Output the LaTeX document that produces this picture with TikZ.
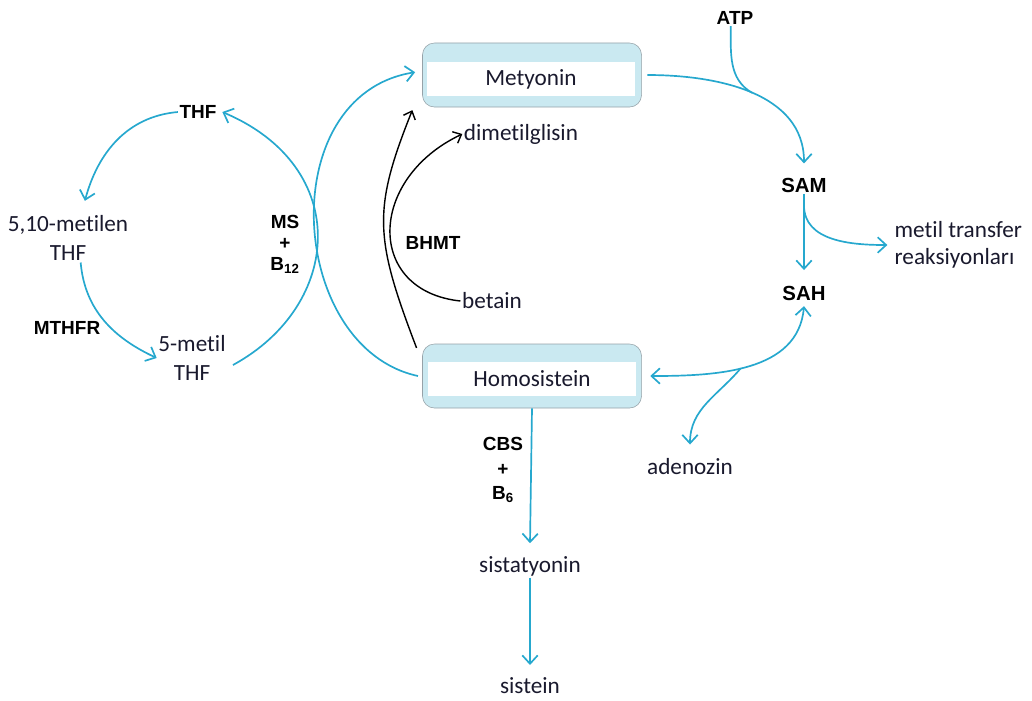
\documentclass[tikz,border=0pt]{standalone}
\usepackage{fontspec}
\setmainfont{Carlito}[Ligatures=NoCommon]
\newfontfamily\enzfont{Liberation Sans}
\usetikzlibrary{arrows.meta, positioning, calc}
\definecolor{pathblue}{RGB}{38,168,206}
\definecolor{poolfill}{RGB}{202,233,241}
\definecolor{poolline}{RGB}{150,162,168}
\definecolor{inkdark}{RGB}{25,25,45}

\begin{document}
\begin{tikzpicture}[
    x=0.025cm, y=-0.025cm,
    metab/.style={font=\fontsize{16.5}{21}\selectfont, text=inkdark, inner sep=1pt, align=center},
    enzyme/.style={font=\enzfont\bfseries\fontsize{13.5}{17.5}\selectfont, inner sep=1pt, align=center},
    pool/.style={draw=poolline, fill=poolfill, rounded corners=0.3cm, minimum width=5.475cm, minimum height=1.6cm},
    band/.style={fill=white, minimum width=5.2cm, minimum height=0.86cm, inner sep=0pt,
                 font=\fontsize{16.5}{19}\selectfont, text=inkdark},
    flow/.style={draw=pathblue, line width=1.2pt, -{Straight Barb[length=6pt,width=11pt]}},
    blink/.style={draw=pathblue, line width=1.2pt},
    bflow/.style={draw=black, line width=1pt, -{Straight Barb[length=5pt,width=9pt]}}
]
\useasboundingbox (0,0) rectangle (1032,700);
\node[pool] (met) at (532,75) {};
\node[band] (metT) at (531,79) {Metyonin};
\node[pool] (homo) at (532,376) {};
\node[band] (homoT) at (532,379) {Homosistein};
\node[enzyme] (atp) at (735,18) {ATP};
\node[enzyme, font=\enzfont\bfseries\fontsize{14.5}{17}\selectfont] (sam) at (804,185) {SAM};
\node[enzyme, font=\enzfont\bfseries\fontsize{14.5}{17}\selectfont] (sah) at (804,293) {SAH};
\node[metab, align=left, anchor=west, font=\fontsize{16.5}{19}\selectfont] (mtr) at (893,245) {metil transfer\\reaksiyonları};
\node[metab] (ado) at (690,467) {adenozin};
\node[metab] (cysta) at (530,566) {sistatyonin};
\node[metab] (cys) at (530,686) {sistein};
\node[enzyme] (cbs) at (503,470) {CBS\\+\\B\textsubscript{6}};
\node[enzyme] (bhmt) at (433,243) {BHMT};
\node[metab] (dmg) at (521,134) {dimetilglisin};
\node[metab] (bet) at (492,301) {betain};
\node[enzyme] (thf) at (198,112) {THF};
\node[metab] (mthf) at (68,238) {5,10-metilen\\THF};
\node[enzyme] (mthfr) at (67,328) {MTHFR};
\node[metab] (mthf5) at (192,358) {5-metil\\THF};
\node[enzyme, font=\enzfont\bfseries\fontsize{13.5}{15}\selectfont] (ms) at (285,244) {MS\\+\\B\textsubscript{12}};
\draw[flow] (thf.west) to[out=185,in=75] ([xshift=12pt,yshift=9pt]mthf.north);
\draw[flow] ([xshift=9pt]mthf.south) to[out=-85,in=155] (mthf5.west);
\draw[flow] ([xshift=4pt,yshift=-5pt]mthf5.east) .. controls +(110,-60) and +(130,55) .. ([xshift=3pt]thf.east);
\draw[flow] ([xshift=-3pt]homo.west) .. controls +(-130,-28) and +(-143,23) .. ([xshift=-5pt,yshift=2pt]met.west);
\draw[flow] ([xshift=4pt]met.east) to[out=0,in=90] coordinate[pos=0.5] (atpjoin) ([yshift=9pt]sam.north);
\draw[blink] ([xshift=-3pt]atp.south) to[out=-90,in=150] (atpjoin);
\draw[flow] (sam.south) -- coordinate[pos=0.15] (sambr) ([yshift=10pt]sah.north);
\draw[flow] (sambr) to[out=-90,in=180] ([xshift=-4pt]mtr.west);
\draw[draw=pathblue, line width=1.2pt, {Straight Barb[length=6pt,width=11pt]}-{Straight Barb[length=6pt,width=11pt]}]
    ([xshift=6pt]homo.east) to[out=0,in=-95] coordinate[pos=0.45] (adojoin) ([yshift=-3pt]sah.south);
\draw[flow] (adojoin) to[out=-130,in=90] ([yshift=9pt]ado.north);
\draw[flow] (homo.south) -- ([yshift=8pt]cysta.north);
\draw[flow] (cysta.south) -- ([yshift=8pt]cys.north);
\draw[bflow] ([xshift=-4pt,yshift=-3pt]homo.north west) .. controls +(-42,-110) and +(-40,100) .. ([xshift=-7pt,yshift=-2pt]met.south west);
\draw[bflow] (bet.west) .. controls +(-95,-10) and +(-95,45) .. (dmg.west);
\end{tikzpicture}
\end{document}
